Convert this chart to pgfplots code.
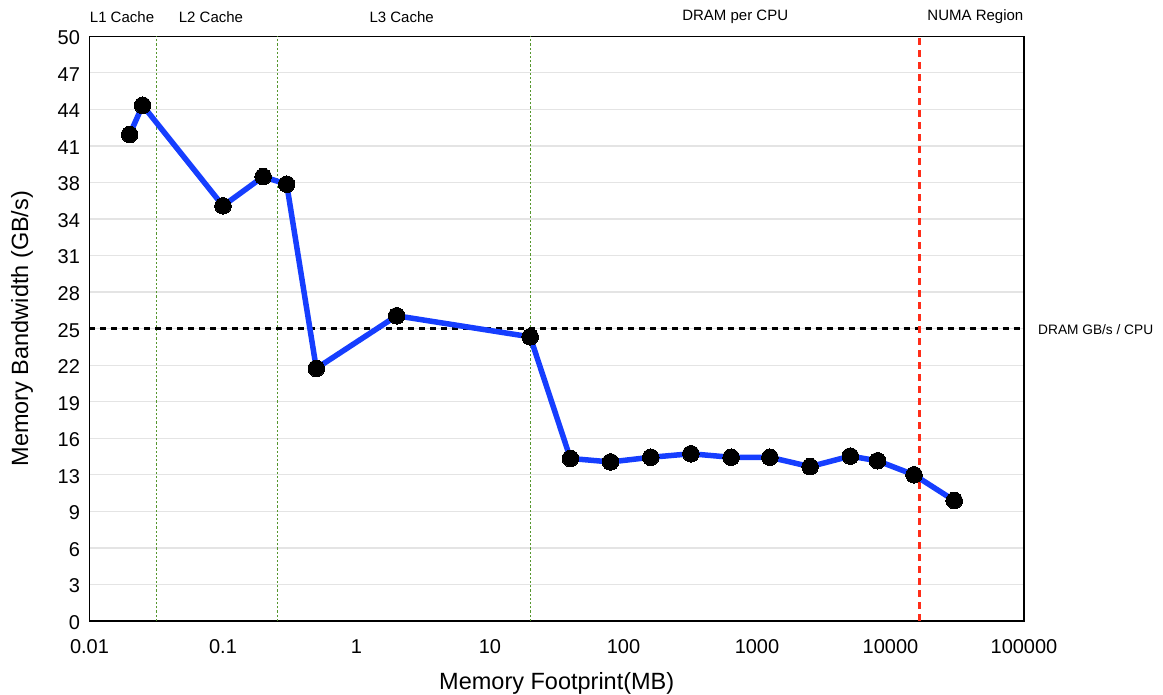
\documentclass[border=0pt]{standalone}
\usepackage{pgfplots}
\pgfplotsset{compat=1.18}
\usepackage{fontspec}
\setmainfont{Liberation Sans}
\definecolor{lineblue}{RGB}{22,62,255}
\definecolor{gridgray}{RGB}{228,228,228}
\definecolor{dotgreen}{RGB}{85,150,45}
\definecolor{numared}{RGB}{255,45,25}
\pgfplotstableread{
x y
0.02 41.6
0.025 44.1
0.1 35.5
0.2 38.0
0.3 37.35
0.5 21.6
2 26.1
20 24.3
40 13.9
80 13.6
160 14.0
320 14.3
640 14.0
1250 14.0
2500 13.2
5000 14.1
8000 13.7
15000 12.5
30000 10.3
}\bwdata
\begin{document}
\begin{tikzpicture}[x=1pt,y=1pt]
\path[use as bounding box] (-89.5,-74) rectangle (1073.5,621);
\begin{axis}[
  at={(0,0)}, anchor=south west,
  scale only axis,
  width=934.5pt, height=584.7pt,
  xmode=log,
  xmin=0.01, xmax=100000,
  ymin=0, ymax=50,
  xtick={0.01,0.1,1,10,100,1000,10000,100000},
  xticklabels={0.01,0.1,1,10,100,1000,10000,100000},
  ytick={0,3.125,6.25,9.375,12.5,15.625,18.75,21.875,25,28.125,31.25,34.375,37.5,40.625,43.75,46.875,50},
  yticklabels={0,3,6,9,13,16,19,22,25,28,31,34,38,41,44,47,50},
  minor xtick={},
  log ticks with fixed point,
  /pgf/number format/assume math mode=true,
  major tick length=0pt,
  minor tick length=0pt,
  ymajorgrids,
  grid style={gridgray, line width=1.3pt},
  axis line style={black, line width=1.4pt},
  tick label style={font=\fontsize{20}{24}\selectfont},
  xticklabel style={yshift=-15pt},
  yticklabel style={xshift=-6pt, yshift=-1.5pt},
  xlabel={Memory Footprint(MB)},
  ylabel={Memory Bandwidth (GB/s)},
  label style={font=\fontsize{23.5}{28}\selectfont},
  xlabel style={at={(axis description cs:0.5,-0.106)}, anchor=center},
  ylabel style={at={(axis description cs:-0.0722,0.5)}, anchor=center, rotate=0},
  clip=false,
  axis on top=false,
]
% reference lines
\addplot[dotgreen, line width=1.1pt, dash pattern=on 2.2pt off 2pt] coordinates {(0.032,0) (0.032,50)};
\addplot[dotgreen, line width=1.1pt, dash pattern=on 2.2pt off 2pt] coordinates {(0.256,0) (0.256,50)};
\addplot[dotgreen, line width=1.1pt, dash pattern=on 2.2pt off 2pt] coordinates {(20,0) (20,50)};
\addplot[black, line width=2.6pt, dash pattern=on 6pt off 5pt] coordinates {(0.01,25) (100000,25)};
\addplot[numared, line width=3pt, dash pattern=on 7pt off 5pt] coordinates {(16384,0) (16384,50)};
% data
\addplot[lineblue, line width=5.5pt, mark=*, mark size=8.3pt,
  mark options={fill=black, draw=black, line width=0pt}] table[x=x,y=y] {\bwdata};
% top labels
\node[font=\fontsize{15}{18}\selectfont] at (axis description cs:0.0348,1.033) {L1 Cache};
\node[font=\fontsize{15}{18}\selectfont] at (axis description cs:0.130,1.033) {L2 Cache};
\node[font=\fontsize{15}{18}\selectfont] at (axis description cs:0.334,1.033) {L3 Cache};
\node[font=\fontsize{15}{18}\selectfont] at (axis description cs:0.691,1.033) {DRAM per CPU};
\node[font=\fontsize{15}{18}\selectfont] at (axis description cs:0.948,1.033) {NUMA Region};
\node[font=\fontsize{13.7}{16}\selectfont, anchor=west, inner sep=0pt] at (axis description cs:1.015,0.4977) {DRAM GB/s / CPU};
\end{axis}
\end{tikzpicture}
\end{document}
